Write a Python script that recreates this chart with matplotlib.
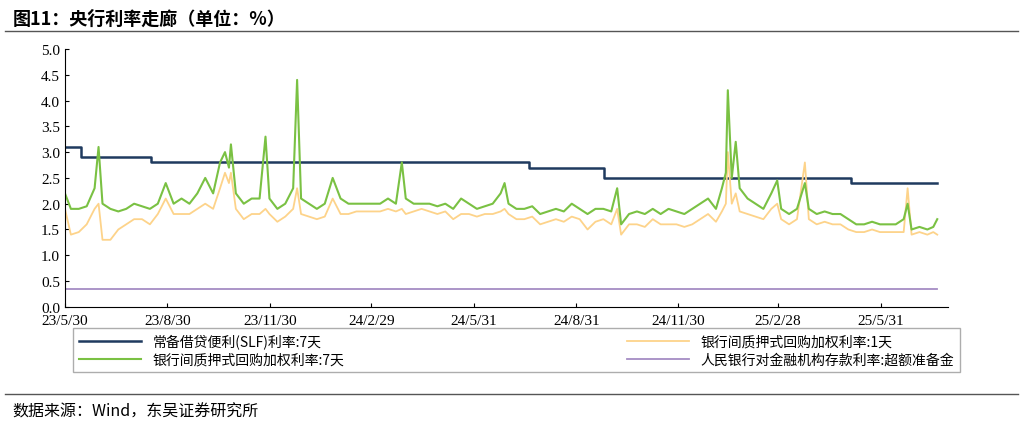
import matplotlib
matplotlib.use("Agg")
import matplotlib.pyplot as plt
import pandas as pd
import numpy as np

plt.rcParams['font.family'] = ['Liberation Serif', 'Noto Sans CJK SC']

start = pd.Timestamp('2023-05-30')
px_per_day = 1.128
# reading positions (pixel x in reference) of sampled points
xpos = [67,73,81,89,97,101,105,113,121,129,137,145,153,161,169,177,185,193,201,209,217,224,229,233,235,240,248,256,264,270,274,282,290,298,302,306,314,322,330,338,346,354,362,370,378,386,394,402,408,412,420,428,436,444,452,460,468,476,484,492,500,508,512,516,524,532,540,548,556,564,572,580,588,596,604,612,620,626,630,638,646,654,662,670,678,686,694,702,710,718,726,732,736,738,742,746,750,758,766,774,782,788,792,800,808,816,820,828,836,844,852,860,868,876,884,892,900,908,916,920,924,932,940,946,950]
dr007 = [2.2,1.9,1.9,1.95,2.3,3.1,2.0,1.9,1.85,1.9,2.0,1.95,1.9,2.0,2.4,2.0,2.1,2.0,2.2,2.5,2.2,2.8,3.0,2.7,3.15,2.2,2.0,2.1,2.1,3.3,2.1,1.9,2.0,2.3,4.4,2.1,2.0,1.9,2.0,2.5,2.1,2.0,2.0,2.0,2.0,2.0,2.1,2.0,2.8,2.1,2.0,2.0,2.0,1.95,2.0,1.9,2.1,2.0,1.9,1.95,2.0,2.2,2.4,2.0,1.9,1.9,1.95,1.8,1.85,1.9,1.85,2.0,1.9,1.8,1.9,1.9,1.85,2.3,1.6,1.8,1.85,1.8,1.9,1.8,1.9,1.85,1.8,1.9,2.0,2.1,1.9,2.3,2.6,4.2,2.5,3.2,2.3,2.1,2.0,1.9,2.2,2.45,1.9,1.8,1.9,2.4,1.9,1.8,1.85,1.8,1.8,1.7,1.6,1.6,1.65,1.6,1.6,1.6,1.7,2.0,1.5,1.55,1.5,1.55,1.7]
dr001 = [1.9,1.4,1.45,1.6,1.9,2.0,1.3,1.3,1.5,1.6,1.7,1.7,1.6,1.8,2.1,1.8,1.8,1.8,1.9,2.0,1.9,2.3,2.6,2.4,2.6,1.9,1.7,1.8,1.8,1.9,1.8,1.65,1.75,1.9,2.3,1.8,1.75,1.7,1.75,2.1,1.8,1.8,1.85,1.85,1.85,1.85,1.9,1.85,1.9,1.8,1.85,1.9,1.85,1.8,1.85,1.7,1.8,1.8,1.75,1.8,1.8,1.85,1.9,1.8,1.7,1.7,1.75,1.6,1.65,1.7,1.65,1.75,1.7,1.5,1.65,1.7,1.6,1.9,1.4,1.6,1.6,1.55,1.7,1.6,1.6,1.6,1.55,1.6,1.7,1.8,1.65,1.85,2.0,3.0,2.0,2.2,1.85,1.8,1.75,1.7,1.9,2.0,1.7,1.6,1.7,2.8,1.7,1.6,1.65,1.6,1.6,1.5,1.45,1.45,1.5,1.45,1.45,1.45,1.45,2.3,1.4,1.45,1.4,1.45,1.4]
dates = [start + pd.Timedelta(days=(x - 67) / px_per_day) for x in xpos]

slf_dates = ['2023-05-30','2023-06-13','2023-08-15','2024-07-19','2024-09-25','2025-05-04','2025-07-21']
slf_vals = [3.1, 2.9, 2.8, 2.7, 2.5, 2.4, 2.4]
excess = 0.35

xtick_labels = ['23/5/30','23/8/30','23/11/30','24/2/29','24/5/31','24/8/31','24/11/30','25/2/28','25/5/31']
xtick_dates = ['2023-05-30','2023-08-30','2023-11-30','2024-02-29','2024-05-31','2024-08-31','2024-11-30','2025-02-28','2025-05-31']

fig = plt.figure(figsize=(10.23, 4.27), dpi=100)
ax = fig.add_axes([0.0635, 0.279, 0.8627, 0.604])

l1, = ax.step(pd.to_datetime(slf_dates), slf_vals, where='post', color='#1f3a5f', lw=1.8, label='常备借贷便利(SLF)利率:7天')
l2, = ax.plot(dates, dr001, color='#fdd38a', lw=1.3, label='银行间质押式回购加权利率:1天')
l3, = ax.plot(dates, dr007, color='#7ac143', lw=1.5, label='银行间质押式回购加权利率:7天')
l4, = ax.plot([start, pd.Timestamp('2025-07-21')], [excess, excess], color='#a58cc4', lw=1.3, label='人民银行对金融机构存款利率:超额准备金')

ax.set_ylim(0, 5)
ax.set_yticks(np.arange(0, 5.01, 0.5))
ax.set_yticklabels([f'{v:.1f}' for v in np.arange(0, 5.01, 0.5)], fontsize=11)
ax.set_xlim(start, pd.Timestamp('2025-07-30'))
ax.set_xticks(pd.to_datetime(xtick_dates))
ax.set_xticklabels(xtick_labels, fontsize=11)
ax.tick_params(direction='in', length=3)
ax.tick_params(axis='x', pad=5)
for s in ['top', 'right']:
    ax.spines[s].set_visible(False)

leg = fig.legend(handles=[l1, l3, l2, l4], loc='lower left', bbox_to_anchor=(0.065, 0.11, 0.88, 0.117),
                 mode='expand', ncol=2, frameon=True, fancybox=False, edgecolor='#999999',
                 prop={'family': ['Noto Sans CJK SC'], 'size': 10}, handlelength=4.5,
                 borderpad=0.4, labelspacing=0.3, columnspacing=2)

fig.text(0.012, 0.955, '图11：央行利率走廊（单位：%）', fontsize=13, fontweight='bold',
         family=['Noto Sans CJK SC'], va='center')
fig.add_artist(plt.Line2D([0.005, 0.995], [0.925, 0.925], color='#555555', lw=1))
fig.add_artist(plt.Line2D([0.005, 0.995], [0.075, 0.075], color='#555555', lw=1))
fig.text(0.012, 0.035, '数据来源：Wind，东吴证券研究所', fontsize=11.5, family=['Noto Sans CJK SC'], va='center')

fig.savefig('out.png', dpi=100)
